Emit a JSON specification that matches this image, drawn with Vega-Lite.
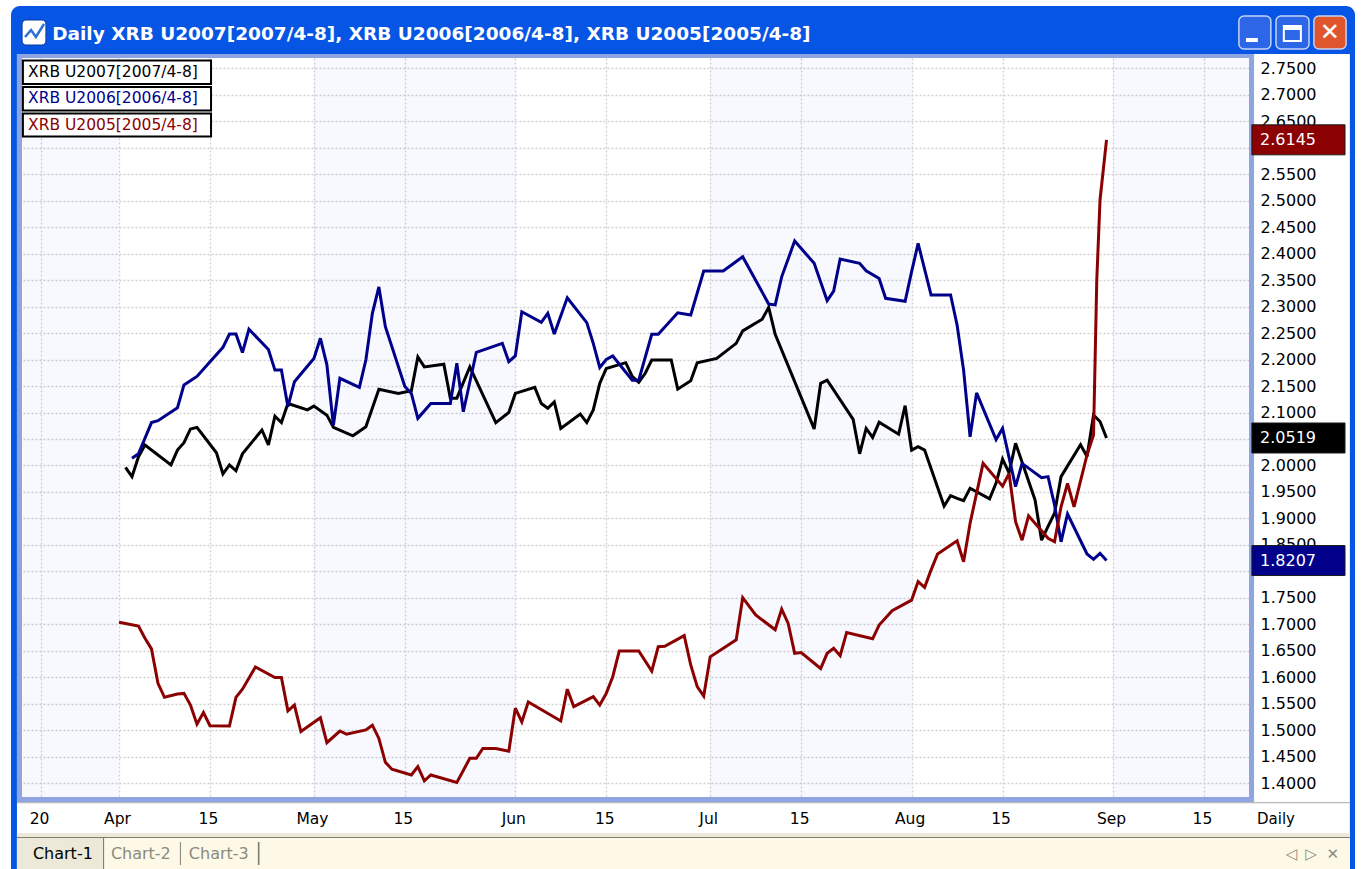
{"$schema":"https://vega.github.io/schema/vega-lite/v6.json","width":1227,"height":739,"autosize":"none","padding":{"left":22,"top":58,"right":112,"bottom":72},"background":"#ffffff","config":{"view":{"stroke":null},"font":"DejaVu Sans"},
"datasets":{
"prices":[
{"date":"2007-04-02","value":1.9965,"part":"XRB U2007"},{"date":"2007-04-03","value":1.979,"part":"XRB U2007"},{"date":"2007-04-04","value":2.0166,"part":"XRB U2007"},{"date":"2007-04-05","value":2.0387,"part":"XRB U2007"},{"date":"2007-04-09","value":2.001,"part":"XRB U2007"},{"date":"2007-04-10","value":2.029,"part":"XRB U2007"},{"date":"2007-04-11","value":2.043,"part":"XRB U2007"},{"date":"2007-04-12","value":2.069,"part":"XRB U2007"},{"date":"2007-04-13","value":2.072,"part":"XRB U2007"},{"date":"2007-04-16","value":2.024,"part":"XRB U2007"},{"date":"2007-04-17","value":1.984,"part":"XRB U2007"},{"date":"2007-04-18","value":2.001,"part":"XRB U2007"},{"date":"2007-04-19","value":1.99,"part":"XRB U2007"},{"date":"2007-04-20","value":2.022,"part":"XRB U2007"},{"date":"2007-04-23","value":2.067,"part":"XRB U2007"},{"date":"2007-04-24","value":2.039,"part":"XRB U2007"},{"date":"2007-04-25","value":2.093,"part":"XRB U2007"},{"date":"2007-04-26","value":2.081,"part":"XRB U2007"},{"date":"2007-04-27","value":2.117,"part":"XRB U2007"},{"date":"2007-04-30","value":2.105,"part":"XRB U2007"},{"date":"2007-05-01","value":2.112,"part":"XRB U2007"},{"date":"2007-05-03","value":2.095,"part":"XRB U2007"},{"date":"2007-05-04","value":2.072,"part":"XRB U2007"},{"date":"2007-05-07","value":2.056,"part":"XRB U2007"},{"date":"2007-05-09","value":2.073,"part":"XRB U2007"},{"date":"2007-05-11","value":2.144,"part":"XRB U2007"},{"date":"2007-05-14","value":2.136,"part":"XRB U2007"},{"date":"2007-05-16","value":2.141,"part":"XRB U2007"},{"date":"2007-05-17","value":2.205,"part":"XRB U2007"},{"date":"2007-05-18","value":2.186,"part":"XRB U2007"},{"date":"2007-05-21","value":2.191,"part":"XRB U2007"},{"date":"2007-05-22","value":2.127,"part":"XRB U2007"},{"date":"2007-05-23","value":2.127,"part":"XRB U2007"},{"date":"2007-05-25","value":2.186,"part":"XRB U2007"},{"date":"2007-05-29","value":2.081,"part":"XRB U2007"},{"date":"2007-05-31","value":2.1,"part":"XRB U2007"},{"date":"2007-06-01","value":2.136,"part":"XRB U2007"},{"date":"2007-06-04","value":2.1475,"part":"XRB U2007"},{"date":"2007-06-05","value":2.117,"part":"XRB U2007"},{"date":"2007-06-06","value":2.108,"part":"XRB U2007"},{"date":"2007-06-07","value":2.12,"part":"XRB U2007"},{"date":"2007-06-08","value":2.07,"part":"XRB U2007"},{"date":"2007-06-11","value":2.097,"part":"XRB U2007"},{"date":"2007-06-12","value":2.081,"part":"XRB U2007"},{"date":"2007-06-13","value":2.105,"part":"XRB U2007"},{"date":"2007-06-14","value":2.155,"part":"XRB U2007"},{"date":"2007-06-15","value":2.183,"part":"XRB U2007"},{"date":"2007-06-18","value":2.194,"part":"XRB U2007"},{"date":"2007-06-19","value":2.168,"part":"XRB U2007"},{"date":"2007-06-20","value":2.157,"part":"XRB U2007"},{"date":"2007-06-21","value":2.174,"part":"XRB U2007"},{"date":"2007-06-22","value":2.199,"part":"XRB U2007"},{"date":"2007-06-25","value":2.199,"part":"XRB U2007"},{"date":"2007-06-26","value":2.144,"part":"XRB U2007"},{"date":"2007-06-28","value":2.16,"part":"XRB U2007"},{"date":"2007-06-29","value":2.194,"part":"XRB U2007"},{"date":"2007-07-02","value":2.202,"part":"XRB U2007"},{"date":"2007-07-05","value":2.2305,"part":"XRB U2007"},{"date":"2007-07-06","value":2.254,"part":"XRB U2007"},{"date":"2007-07-09","value":2.276,"part":"XRB U2007"},{"date":"2007-07-10","value":2.2985,"part":"XRB U2007"},{"date":"2007-07-11","value":2.2475,"part":"XRB U2007"},{"date":"2007-07-17","value":2.069,"part":"XRB U2007"},{"date":"2007-07-18","value":2.155,"part":"XRB U2007"},{"date":"2007-07-19","value":2.161,"part":"XRB U2007"},{"date":"2007-07-23","value":2.087,"part":"XRB U2007"},{"date":"2007-07-24","value":2.022,"part":"XRB U2007"},{"date":"2007-07-25","value":2.07,"part":"XRB U2007"},{"date":"2007-07-26","value":2.053,"part":"XRB U2007"},{"date":"2007-07-27","value":2.0815,"part":"XRB U2007"},{"date":"2007-07-30","value":2.059,"part":"XRB U2007"},{"date":"2007-07-31","value":2.113,"part":"XRB U2007"},{"date":"2007-08-01","value":2.029,"part":"XRB U2007"},{"date":"2007-08-02","value":2.0355,"part":"XRB U2007"},{"date":"2007-08-03","value":2.029,"part":"XRB U2007"},{"date":"2007-08-06","value":1.9236,"part":"XRB U2007"},{"date":"2007-08-07","value":1.943,"part":"XRB U2007"},{"date":"2007-08-08","value":1.938,"part":"XRB U2007"},{"date":"2007-08-09","value":1.9336,"part":"XRB U2007"},{"date":"2007-08-10","value":1.957,"part":"XRB U2007"},{"date":"2007-08-13","value":1.937,"part":"XRB U2007"},{"date":"2007-08-14","value":1.967,"part":"XRB U2007"},{"date":"2007-08-15","value":2.012,"part":"XRB U2007"},{"date":"2007-08-16","value":1.986,"part":"XRB U2007"},{"date":"2007-08-17","value":2.042,"part":"XRB U2007"},{"date":"2007-08-20","value":1.935,"part":"XRB U2007"},{"date":"2007-08-21","value":1.859,"part":"XRB U2007"},{"date":"2007-08-22","value":1.885,"part":"XRB U2007"},{"date":"2007-08-23","value":1.91,"part":"XRB U2007"},{"date":"2007-08-24","value":1.979,"part":"XRB U2007"},{"date":"2007-08-27","value":2.039,"part":"XRB U2007"},{"date":"2007-08-28","value":2.017,"part":"XRB U2007"},{"date":"2007-08-29","value":2.095,"part":"XRB U2007"},{"date":"2007-08-30","value":2.083,"part":"XRB U2007"},{"date":"2007-08-31","value":2.0519,"part":"XRB U2007"},
{"date":"2007-04-03","value":2.0135,"part":"XRB U2006"},{"date":"2007-04-04","value":2.022,"part":"XRB U2006"},{"date":"2007-04-06","value":2.081,"part":"XRB U2006"},{"date":"2007-04-07","value":2.0846,"part":"XRB U2006"},{"date":"2007-04-10","value":2.109,"part":"XRB U2006"},{"date":"2007-04-11","value":2.152,"part":"XRB U2006"},{"date":"2007-04-13","value":2.168,"part":"XRB U2006"},{"date":"2007-04-17","value":2.223,"part":"XRB U2006"},{"date":"2007-04-18","value":2.248,"part":"XRB U2006"},{"date":"2007-04-19","value":2.248,"part":"XRB U2006"},{"date":"2007-04-20","value":2.213,"part":"XRB U2006"},{"date":"2007-04-21","value":2.257,"part":"XRB U2006"},{"date":"2007-04-24","value":2.219,"part":"XRB U2006"},{"date":"2007-04-25","value":2.18,"part":"XRB U2006"},{"date":"2007-04-26","value":2.18,"part":"XRB U2006"},{"date":"2007-04-27","value":2.111,"part":"XRB U2006"},{"date":"2007-04-28","value":2.158,"part":"XRB U2006"},{"date":"2007-05-01","value":2.202,"part":"XRB U2006"},{"date":"2007-05-02","value":2.24,"part":"XRB U2006"},{"date":"2007-05-03","value":2.19,"part":"XRB U2006"},{"date":"2007-05-04","value":2.076,"part":"XRB U2006"},{"date":"2007-05-05","value":2.1645,"part":"XRB U2006"},{"date":"2007-05-08","value":2.1475,"part":"XRB U2006"},{"date":"2007-05-09","value":2.199,"part":"XRB U2006"},{"date":"2007-05-10","value":2.287,"part":"XRB U2006"},{"date":"2007-05-11","value":2.337,"part":"XRB U2006"},{"date":"2007-05-12","value":2.262,"part":"XRB U2006"},{"date":"2007-05-15","value":2.149,"part":"XRB U2006"},{"date":"2007-05-16","value":2.136,"part":"XRB U2006"},{"date":"2007-05-17","value":2.089,"part":"XRB U2006"},{"date":"2007-05-19","value":2.117,"part":"XRB U2006"},{"date":"2007-05-22","value":2.117,"part":"XRB U2006"},{"date":"2007-05-23","value":2.193,"part":"XRB U2006"},{"date":"2007-05-24","value":2.1015,"part":"XRB U2006"},{"date":"2007-05-26","value":2.2136,"part":"XRB U2006"},{"date":"2007-05-30","value":2.2305,"part":"XRB U2006"},{"date":"2007-05-31","value":2.196,"part":"XRB U2006"},{"date":"2007-06-01","value":2.2066,"part":"XRB U2006"},{"date":"2007-06-02","value":2.29,"part":"XRB U2006"},{"date":"2007-06-05","value":2.27,"part":"XRB U2006"},{"date":"2007-06-06","value":2.287,"part":"XRB U2006"},{"date":"2007-06-07","value":2.248,"part":"XRB U2006"},{"date":"2007-06-09","value":2.3166,"part":"XRB U2006"},{"date":"2007-06-12","value":2.2695,"part":"XRB U2006"},{"date":"2007-06-13","value":2.2305,"part":"XRB U2006"},{"date":"2007-06-14","value":2.185,"part":"XRB U2006"},{"date":"2007-06-15","value":2.2,"part":"XRB U2006"},{"date":"2007-06-16","value":2.2066,"part":"XRB U2006"},{"date":"2007-06-19","value":2.161,"part":"XRB U2006"},{"date":"2007-06-20","value":2.161,"part":"XRB U2006"},{"date":"2007-06-22","value":2.2475,"part":"XRB U2006"},{"date":"2007-06-23","value":2.2475,"part":"XRB U2006"},{"date":"2007-06-26","value":2.288,"part":"XRB U2006"},{"date":"2007-06-28","value":2.284,"part":"XRB U2006"},{"date":"2007-06-30","value":2.367,"part":"XRB U2006"},{"date":"2007-07-03","value":2.367,"part":"XRB U2006"},{"date":"2007-07-06","value":2.394,"part":"XRB U2006"},{"date":"2007-07-10","value":2.3047,"part":"XRB U2006"},{"date":"2007-07-11","value":2.303,"part":"XRB U2006"},{"date":"2007-07-12","value":2.356,"part":"XRB U2006"},{"date":"2007-07-14","value":2.4236,"part":"XRB U2006"},{"date":"2007-07-17","value":2.3815,"part":"XRB U2006"},{"date":"2007-07-19","value":2.311,"part":"XRB U2006"},{"date":"2007-07-20","value":2.329,"part":"XRB U2006"},{"date":"2007-07-21","value":2.3896,"part":"XRB U2006"},{"date":"2007-07-24","value":2.3815,"part":"XRB U2006"},{"date":"2007-07-25","value":2.3675,"part":"XRB U2006"},{"date":"2007-07-27","value":2.353,"part":"XRB U2006"},{"date":"2007-07-28","value":2.3155,"part":"XRB U2006"},{"date":"2007-07-31","value":2.31,"part":"XRB U2006"},{"date":"2007-08-01","value":2.3657,"part":"XRB U2006"},{"date":"2007-08-02","value":2.419,"part":"XRB U2006"},{"date":"2007-08-04","value":2.3217,"part":"XRB U2006"},{"date":"2007-08-07","value":2.3217,"part":"XRB U2006"},{"date":"2007-08-08","value":2.265,"part":"XRB U2006"},{"date":"2007-08-09","value":2.18,"part":"XRB U2006"},{"date":"2007-08-10","value":2.054,"part":"XRB U2006"},{"date":"2007-08-11","value":2.137,"part":"XRB U2006"},{"date":"2007-08-14","value":2.049,"part":"XRB U2006"},{"date":"2007-08-15","value":2.07,"part":"XRB U2006"},{"date":"2007-08-17","value":1.96,"part":"XRB U2006"},{"date":"2007-08-18","value":2.004,"part":"XRB U2006"},{"date":"2007-08-21","value":1.977,"part":"XRB U2006"},{"date":"2007-08-22","value":1.979,"part":"XRB U2006"},{"date":"2007-08-23","value":1.9255,"part":"XRB U2006"},{"date":"2007-08-24","value":1.856,"part":"XRB U2006"},{"date":"2007-08-25","value":1.9085,"part":"XRB U2006"},{"date":"2007-08-28","value":1.833,"part":"XRB U2006"},{"date":"2007-08-29","value":1.823,"part":"XRB U2006"},{"date":"2007-08-30","value":1.8343,"part":"XRB U2006"},{"date":"2007-08-31","value":1.8207,"part":"XRB U2006"},
{"date":"2007-04-01","value":1.7041,"part":"XRB U2005"},{"date":"2007-04-04","value":1.697,"part":"XRB U2005"},{"date":"2007-04-05","value":1.674,"part":"XRB U2005"},{"date":"2007-04-06","value":1.654,"part":"XRB U2005"},{"date":"2007-04-07","value":1.589,"part":"XRB U2005"},{"date":"2007-04-08","value":1.5626,"part":"XRB U2005"},{"date":"2007-04-10","value":1.5687,"part":"XRB U2005"},{"date":"2007-04-11","value":1.57,"part":"XRB U2005"},{"date":"2007-04-12","value":1.548,"part":"XRB U2005"},{"date":"2007-04-13","value":1.512,"part":"XRB U2005"},{"date":"2007-04-14","value":1.534,"part":"XRB U2005"},{"date":"2007-04-15","value":1.509,"part":"XRB U2005"},{"date":"2007-04-18","value":1.5085,"part":"XRB U2005"},{"date":"2007-04-19","value":1.5626,"part":"XRB U2005"},{"date":"2007-04-20","value":1.578,"part":"XRB U2005"},{"date":"2007-04-22","value":1.62,"part":"XRB U2005"},{"date":"2007-04-25","value":1.6,"part":"XRB U2005"},{"date":"2007-04-26","value":1.6,"part":"XRB U2005"},{"date":"2007-04-27","value":1.537,"part":"XRB U2005"},{"date":"2007-04-28","value":1.548,"part":"XRB U2005"},{"date":"2007-04-29","value":1.498,"part":"XRB U2005"},{"date":"2007-05-02","value":1.524,"part":"XRB U2005"},{"date":"2007-05-03","value":1.477,"part":"XRB U2005"},{"date":"2007-05-05","value":1.499,"part":"XRB U2005"},{"date":"2007-05-06","value":1.493,"part":"XRB U2005"},{"date":"2007-05-09","value":1.501,"part":"XRB U2005"},{"date":"2007-05-10","value":1.51,"part":"XRB U2005"},{"date":"2007-05-11","value":1.485,"part":"XRB U2005"},{"date":"2007-05-12","value":1.44,"part":"XRB U2005"},{"date":"2007-05-13","value":1.427,"part":"XRB U2005"},{"date":"2007-05-16","value":1.416,"part":"XRB U2005"},{"date":"2007-05-17","value":1.432,"part":"XRB U2005"},{"date":"2007-05-18","value":1.405,"part":"XRB U2005"},{"date":"2007-05-19","value":1.416,"part":"XRB U2005"},{"date":"2007-05-23","value":1.402,"part":"XRB U2005"},{"date":"2007-05-25","value":1.4475,"part":"XRB U2005"},{"date":"2007-05-26","value":1.4475,"part":"XRB U2005"},{"date":"2007-05-27","value":1.466,"part":"XRB U2005"},{"date":"2007-05-29","value":1.466,"part":"XRB U2005"},{"date":"2007-05-31","value":1.461,"part":"XRB U2005"},{"date":"2007-06-01","value":1.542,"part":"XRB U2005"},{"date":"2007-06-02","value":1.516,"part":"XRB U2005"},{"date":"2007-06-03","value":1.554,"part":"XRB U2005"},{"date":"2007-06-08","value":1.518,"part":"XRB U2005"},{"date":"2007-06-09","value":1.578,"part":"XRB U2005"},{"date":"2007-06-10","value":1.545,"part":"XRB U2005"},{"date":"2007-06-13","value":1.564,"part":"XRB U2005"},{"date":"2007-06-14","value":1.548,"part":"XRB U2005"},{"date":"2007-06-15","value":1.57,"part":"XRB U2005"},{"date":"2007-06-16","value":1.6015,"part":"XRB U2005"},{"date":"2007-06-17","value":1.65,"part":"XRB U2005"},{"date":"2007-06-20","value":1.65,"part":"XRB U2005"},{"date":"2007-06-22","value":1.612,"part":"XRB U2005"},{"date":"2007-06-23","value":1.658,"part":"XRB U2005"},{"date":"2007-06-24","value":1.659,"part":"XRB U2005"},{"date":"2007-06-27","value":1.679,"part":"XRB U2005"},{"date":"2007-06-28","value":1.6236,"part":"XRB U2005"},{"date":"2007-06-29","value":1.5826,"part":"XRB U2005"},{"date":"2007-06-30","value":1.565,"part":"XRB U2005"},{"date":"2007-07-01","value":1.639,"part":"XRB U2005"},{"date":"2007-07-05","value":1.671,"part":"XRB U2005"},{"date":"2007-07-06","value":1.7506,"part":"XRB U2005"},{"date":"2007-07-08","value":1.718,"part":"XRB U2005"},{"date":"2007-07-11","value":1.69,"part":"XRB U2005"},{"date":"2007-07-12","value":1.729,"part":"XRB U2005"},{"date":"2007-07-13","value":1.702,"part":"XRB U2005"},{"date":"2007-07-14","value":1.6456,"part":"XRB U2005"},{"date":"2007-07-15","value":1.647,"part":"XRB U2005"},{"date":"2007-07-18","value":1.617,"part":"XRB U2005"},{"date":"2007-07-19","value":1.6456,"part":"XRB U2005"},{"date":"2007-07-20","value":1.655,"part":"XRB U2005"},{"date":"2007-07-21","value":1.641,"part":"XRB U2005"},{"date":"2007-07-22","value":1.685,"part":"XRB U2005"},{"date":"2007-07-26","value":1.673,"part":"XRB U2005"},{"date":"2007-07-27","value":1.699,"part":"XRB U2005"},{"date":"2007-07-29","value":1.726,"part":"XRB U2005"},{"date":"2007-08-01","value":1.746,"part":"XRB U2005"},{"date":"2007-08-02","value":1.781,"part":"XRB U2005"},{"date":"2007-08-03","value":1.77,"part":"XRB U2005"},{"date":"2007-08-04","value":1.803,"part":"XRB U2005"},{"date":"2007-08-05","value":1.833,"part":"XRB U2005"},{"date":"2007-08-08","value":1.858,"part":"XRB U2005"},{"date":"2007-08-09","value":1.8185,"part":"XRB U2005"},{"date":"2007-08-10","value":1.891,"part":"XRB U2005"},{"date":"2007-08-11","value":1.9475,"part":"XRB U2005"},{"date":"2007-08-12","value":2.004,"part":"XRB U2005"},{"date":"2007-08-15","value":1.961,"part":"XRB U2005"},{"date":"2007-08-16","value":1.985,"part":"XRB U2005"},{"date":"2007-08-17","value":1.894,"part":"XRB U2005"},{"date":"2007-08-18","value":1.859,"part":"XRB U2005"},{"date":"2007-08-19","value":1.905,"part":"XRB U2005"},{"date":"2007-08-22","value":1.8626,"part":"XRB U2005"},{"date":"2007-08-23","value":1.856,"part":"XRB U2005"},{"date":"2007-08-24","value":1.922,"part":"XRB U2005"},{"date":"2007-08-25","value":1.966,"part":"XRB U2005"},{"date":"2007-08-26","value":1.922,"part":"XRB U2005"},{"date":"2007-08-28","value":2.02,"part":"XRB U2005"},{"date":"2007-08-29","value":2.0575,"part":"XRB U2005"},{"date":"2007-08-29T12:00:00Z","value":2.35,"part":"XRB U2005"},{"date":"2007-08-30","value":2.501,"part":"XRB U2005"},{"date":"2007-08-31","value":2.6145,"part":"XRB U2005"}
],
"bands":[{"date":"2007-03-17T01:41:00Z","date2":"2007-04-01"},{"date":"2007-05-01","date2":"2007-06-01"},{"date":"2007-07-01","date2":"2007-08-01"},{"date":"2007-09-01","date2":"2007-09-21T22:19:00Z"}],
"chrome":[
{"date":"2007-03-15T09:00:00Z","date2":"2007-03-16T07:00:00Z","value":2.7764,"value2":1.2387,"part":"window"},
{"date":"2007-10-07T11:00:00Z","date2":"2007-10-08T06:00:00Z","value":2.7764,"value2":1.2387,"part":"window"},
{"date":"2007-03-16T07:00:00Z","date2":"2007-09-22T17:00:00Z","value":2.7764,"value2":2.7689,"part":"frame"},
{"date":"2007-03-16T07:00:00Z","date2":"2007-09-22T17:00:00Z","value":1.3745,"value2":1.3651,"part":"frame"},
{"date":"2007-03-16T07:00:00Z","date2":"2007-03-17T01:41:00Z","value":2.7689,"value2":1.3745,"part":"frame"},
{"date":"2007-09-21T22:19:00Z","date2":"2007-09-22T17:00:00Z","value":2.7689,"value2":1.3745,"part":"frame"},
{"date":"2007-03-16T07:00:00Z","date2":"2007-10-07T11:00:00Z","value":1.3651,"value2":1.3625,"part":"grey"},
{"date":"2007-03-16T07:00:00Z","date2":"2007-10-07T11:00:00Z","value":1.3066,"value2":1.2991,"part":"beige"},
{"date":"2007-03-16T07:00:00Z","date2":"2007-10-07T11:00:00Z","value":1.2991,"value2":1.2972,"part":"darkline"},
{"date":"2007-03-16T07:00:00Z","date2":"2007-10-07T11:00:00Z","value":1.2972,"value2":1.2387,"part":"cream"},
{"date":"2007-03-16T07:00:00Z","date2":"2007-03-29T13:00:00Z","value":1.2972,"value2":1.2387,"part":"tab"},
{"date":"2007-03-29T13:00:00Z","date2":"2007-03-29T17:00:00Z","value":1.2991,"value2":1.2387,"part":"darkline"},
{"date":"2007-04-10T09:00:00Z","date2":"2007-04-10T13:00:00Z","value":1.2896,"value2":1.2462,"part":"sep"},
{"date":"2007-04-22T09:00:00Z","date2":"2007-04-22T15:00:00Z","value":1.2896,"value2":1.2462,"part":"darkline"},
{"date":"2007-09-21T11:00:00Z","date2":"2007-09-23T07:00:00Z","value":2.8066,"value2":2.7991,"part":"white"},
{"date":"2007-09-27T07:00:00Z","date2":"2007-09-29T22:00:00Z","value":2.8292,"value2":2.8217,"part":"white"}
],
"top":[{"date":"2007-03-15T09:00:00Z","date2":"2007-10-08T06:00:00Z","value":2.867,"value2":2.7764,"part":"window"}],
"icon":[{"date":"2007-03-17T02:00:00Z","date2":"2007-03-20T18:00:00Z","value":2.8406,"value2":2.7934,"part":"white"}],
"iconline":[{"date":"2007-03-17T13:00:00Z","value":2.8085,"part":"iconblue"},{"date":"2007-03-18T11:00:00Z","value":2.8217,"part":"iconblue"},{"date":"2007-03-19T05:00:00Z","value":2.8085,"part":"iconblue"},{"date":"2007-03-20T11:00:00Z","value":2.8330,"part":"iconblue"}],
"buttons":[
{"date":"2007-09-20T09:00:00Z","date2":"2007-09-25T07:00:00Z","value":2.8481,"value2":2.7858,"part":"button"},
{"date":"2007-09-26T02:00:00Z","date2":"2007-10-01T04:00:00Z","value":2.8481,"value2":2.7858,"part":"button"},
{"date":"2007-10-01T22:00:00Z","date2":"2007-10-06T21:00:00Z","value":2.8481,"value2":2.7858,"part":"close"}
],
"maxbox":[{"date":"2007-09-27T07:00:00Z","date2":"2007-09-29T22:00:00Z","value":2.8292,"value2":2.8009,"part":"white"}],
"legendboxes":[
{"date":"2007-03-17T05:00:00Z","date2":"2007-04-15T04:00:00Z","value":2.7642,"value2":2.7198,"part":"white"},
{"date":"2007-03-17T05:00:00Z","date2":"2007-04-15T04:00:00Z","value":2.7142,"value2":2.6698,"part":"white"},
{"date":"2007-03-17T05:00:00Z","date2":"2007-04-15T04:00:00Z","value":2.6642,"value2":2.6208,"part":"white"}
],
"legendtext":[
{"date":"2007-03-18","value":2.7425,"label":"XRB U2007[2007/4-8]","part":"XRB U2007"},
{"date":"2007-03-18","value":2.6925,"label":"XRB U2006[2006/4-8]","part":"XRB U2006"},
{"date":"2007-03-18","value":2.6425,"label":"XRB U2005[2005/4-8]","part":"XRB U2005"}
],
"tags":[
{"date":"2007-09-22T09:00:00Z","date2":"2007-10-06T17:00:00Z","value":2.6428,"value2":2.5862,"part":"XRB U2005"},
{"date":"2007-09-22T09:00:00Z","date2":"2007-10-06T17:00:00Z","value":2.0802,"value2":2.0236,"part":"XRB U2007"},
{"date":"2007-09-22T09:00:00Z","date2":"2007-10-06T17:00:00Z","value":1.849,"value2":1.7924,"part":"XRB U2006"}
],
"tagtext":[
{"date":"2007-09-23T15:00:00Z","value":2.6145,"label":"2.6145","part":"white"},
{"date":"2007-09-23T15:00:00Z","value":2.0519,"label":"2.0519","part":"white"},
{"date":"2007-09-23T15:00:00Z","value":1.8207,"label":"1.8207","part":"white"}
],
"title":[{"date":"2007-03-21T17:00:00Z","value":2.8142,"label":"Daily XRB U2007[2007/4-8], XRB U2006[2006/4-8], XRB U2005[2005/4-8]","part":"white"}],
"daily":[{"date":"2007-09-23T04:00:00Z","value":1.3330,"label":"Daily","part":"black"}],
"misc":[
{"date":"2007-03-18T18:00:00Z","value":1.267,"label":"Chart-1","part":"black"},
{"date":"2007-03-30T18:00:00Z","value":1.267,"label":"Chart-2","part":"sep"},
{"date":"2007-04-11T18:00:00Z","value":1.267,"label":"Chart-3","part":"sep"}
],
"glyphs":[
{"date":"2007-09-28T10:00:00Z","value":1.267,"label":"◁","part":"sep"},
{"date":"2007-10-01T11:00:00Z","value":1.267,"label":"▷","part":"sep"},
{"date":"2007-10-04T20:00:00Z","value":1.267,"label":"✕","part":"sep"}
],
"closeglyph":[{"date":"2007-10-04T09:00:00Z","value":2.816,"label":"✕","part":"white"}]
},
"encoding":{
"x":{"field":"date","type":"temporal","scale":{"type":"utc","domain":[{"year":2007,"month":3,"date":17,"hours":1,"minutes":41,"utc":true},{"year":2007,"month":9,"date":21,"hours":22,"minutes":19,"utc":true}]},"title":null,
"axis":{"orient":"bottom","values":[{"year":2007,"month":3,"date":20,"utc":true},{"year":2007,"month":4,"date":1,"utc":true},{"year":2007,"month":4,"date":15,"utc":true},{"year":2007,"month":5,"date":1,"utc":true},{"year":2007,"month":5,"date":15,"utc":true},{"year":2007,"month":6,"date":1,"utc":true},{"year":2007,"month":6,"date":15,"utc":true},{"year":2007,"month":7,"date":1,"utc":true},{"year":2007,"month":7,"date":15,"utc":true},{"year":2007,"month":8,"date":1,"utc":true},{"year":2007,"month":8,"date":15,"utc":true},{"year":2007,"month":9,"date":1,"utc":true},{"year":2007,"month":9,"date":15,"utc":true}],"labelExpr":"utcdate(datum.value)==1 ? utcFormat(datum.value,'%b') : utcFormat(datum.value,'%-d')","domain":false,"ticks":false,"grid":true,"gridColor":"#d2d2d2","gridDash":[2,2],"gridWidth":1.4,"labelColor":"#000000","labelFont":"DejaVu Sans","labelFontSize":15.5,"labelPadding":14,"labelOffset":-2,"labelFlush":false,"labelOverlap":false}},
"y":{"field":"value","type":"quantitative","scale":{"domain":[1.3745,2.7689],"nice":false,"zero":false},"title":null,
"axis":{"orient":"right","values":[1.4,1.45,1.5,1.55,1.6,1.65,1.7,1.75,1.8,1.85,1.9,1.95,2.0,2.05,2.1,2.15,2.2,2.25,2.3,2.35,2.4,2.45,2.5,2.55,2.6,2.65,2.7,2.75],"labelExpr":"(abs(datum.value-2.6)<0.001||abs(datum.value-2.05)<0.001||abs(datum.value-1.8)<0.001)?'':format(datum.value,'.4f')","domain":false,"ticks":false,"grid":true,"gridColor":"#d2d2d2","gridDash":[2,2],"gridWidth":1.4,"labelColor":"#000000","labelFont":"DejaVu Sans","labelFontSize":16,"labelPadding":11,"labelAlign":"left","labelOverlap":false,"labelFlush":false}},
"color":{"field":"part","type":"nominal","legend":null,"scale":{"domain":["XRB U2007","XRB U2006","XRB U2005","window","frame","grey","beige","darkline","cream","tab","sep","white","black","iconblue","button","close"],"range":["#000000","#00008b","#8b0000","#0755e4","#8fa5e0","#b9b9b9","#ece9d8","#7d7d70","#fdf9e6","#ece9d8","#8a8a80","#ffffff","#000000","#2f6fd8","#2d66e6","#e0562c"]}}
},
"layer":[
{"data":{"name":"bands"},"mark":{"type":"rect","color":"#0000ff","opacity":0.027},"encoding":{"x2":{"field":"date2"},"y":null,"color":{"value":"#0000ff"}}},
{"data":{"name":"prices"},"mark":{"type":"line","strokeWidth":3,"strokeJoin":"miter","strokeMiterLimit":3}},
{"data":{"name":"top"},"mark":{"type":"rect","cornerRadiusTopLeft":9,"cornerRadiusTopRight":9},"encoding":{"x2":{"field":"date2"},"y2":{"field":"value2"}}},
{"data":{"name":"chrome"},"mark":{"type":"rect"},"encoding":{"x2":{"field":"date2"},"y2":{"field":"value2"}}},
{"data":{"name":"buttons"},"mark":{"type":"rect","cornerRadius":5,"stroke":"#c5d3f5","strokeWidth":1.5},"encoding":{"x2":{"field":"date2"},"y2":{"field":"value2"}}},
{"data":{"name":"chrome"},"transform":[{"filter":"datum.part=='white'"}],"mark":{"type":"rect"},"encoding":{"x2":{"field":"date2"},"y2":{"field":"value2"}}},
{"data":{"name":"maxbox"},"mark":{"type":"rect","filled":false,"strokeWidth":2},"encoding":{"x2":{"field":"date2"},"y2":{"field":"value2"}}},
{"data":{"name":"icon"},"mark":{"type":"rect","cornerRadius":4,"stroke":"#0a3a9a","strokeWidth":1},"encoding":{"x2":{"field":"date2"},"y2":{"field":"value2"}}},
{"data":{"name":"iconline"},"mark":{"type":"line","strokeWidth":2.5}},
{"data":{"name":"legendboxes"},"mark":{"type":"rect","stroke":"#000000","strokeWidth":2},"encoding":{"x2":{"field":"date2"},"y2":{"field":"value2"}}},
{"data":{"name":"legendtext"},"mark":{"type":"text","align":"left","baseline":"middle","font":"DejaVu Sans","fontSize":15.5},"encoding":{"text":{"field":"label"}}},
{"data":{"name":"tags"},"mark":{"type":"rect","stroke":"#1a1a1a","strokeWidth":1},"encoding":{"x2":{"field":"date2"},"y2":{"field":"value2"}}},
{"data":{"name":"tagtext"},"mark":{"type":"text","align":"left","baseline":"middle","font":"DejaVu Sans","fontSize":16},"encoding":{"text":{"field":"label"}}},
{"data":{"name":"title"},"mark":{"type":"text","align":"left","baseline":"middle","font":"DejaVu Sans","fontWeight":"bold","fontSize":18.5},"encoding":{"text":{"field":"label"}}},
{"data":{"name":"daily"},"mark":{"type":"text","align":"left","baseline":"middle","font":"DejaVu Sans","fontSize":15},"encoding":{"text":{"field":"label"}}},
{"data":{"name":"misc"},"mark":{"type":"text","align":"left","baseline":"middle","font":"DejaVu Sans","fontSize":16},"encoding":{"text":{"field":"label"}}},
{"data":{"name":"glyphs"},"mark":{"type":"text","align":"center","baseline":"middle","font":"DejaVu Sans","fontSize":15},"encoding":{"text":{"field":"label"}}},
{"data":{"name":"closeglyph"},"mark":{"type":"text","align":"center","baseline":"middle","font":"DejaVu Sans","fontWeight":"bold","fontSize":24},"encoding":{"text":{"field":"label"}}}
]}
